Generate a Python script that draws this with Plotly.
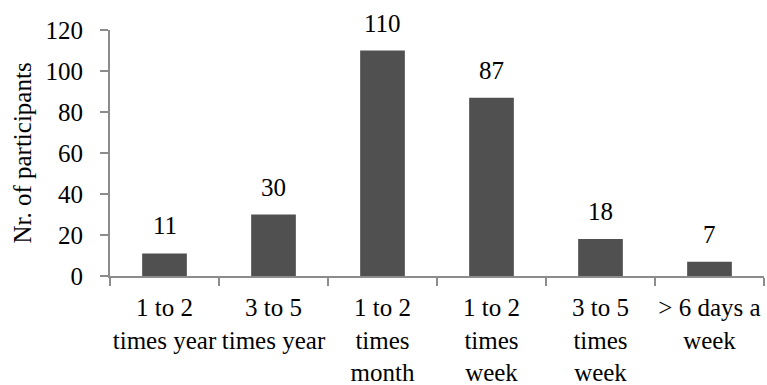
import plotly.graph_objects as go

categories = ["1 to 2<br>times year", "3 to 5<br>times year", "1 to 2<br>times<br>month",
              "1 to 2<br>times<br>week", "3 to 5<br>times<br>week", "> 6 days a<br>week"]
values = [11, 30, 110, 87, 18, 7]
y_ticks = [0, 20, 40, 60, 80, 100, 120]

font = dict(family="Liberation Serif, Times New Roman, serif", size=25, color="black")
axis_col = "#8c8c8c"

fig = go.Figure()
fig.add_trace(go.Bar(x=categories, y=values, marker=dict(color="#505050", line=dict(width=0)),
                     width=0.41))
for c, v in zip(categories, values):
    fig.add_annotation(x=c, y=v, text=str(v), showarrow=False, yanchor="bottom",
                       yshift=12, font=font)

fig.update_layout(
    width=767, height=385, margin=dict(l=110, r=3, t=30, b=109),
    paper_bgcolor="white", plot_bgcolor="white", showlegend=False, font=font,
)
fig.update_xaxes(showline=True, linecolor=axis_col, linewidth=2, ticks="outside",
                 tickcolor=axis_col, ticklen=8, tickwidth=2, tickson="boundaries",
                 showgrid=False, ticklabelstandoff=8, tickfont=font, tickangle=0,
                 automargin=False)
fig.update_yaxes(range=[0, 120], tickvals=y_ticks, showline=True, linecolor=axis_col,
                 linewidth=2, ticks="outside", tickcolor=axis_col, ticklen=8, tickwidth=2,
                 showgrid=False, zeroline=False, tickfont=font, ticklabelstandoff=12,
                 automargin=False,
                 title=dict(text="Nr. of participants", font=font, standoff=7))
fig.write_html("out.html")
